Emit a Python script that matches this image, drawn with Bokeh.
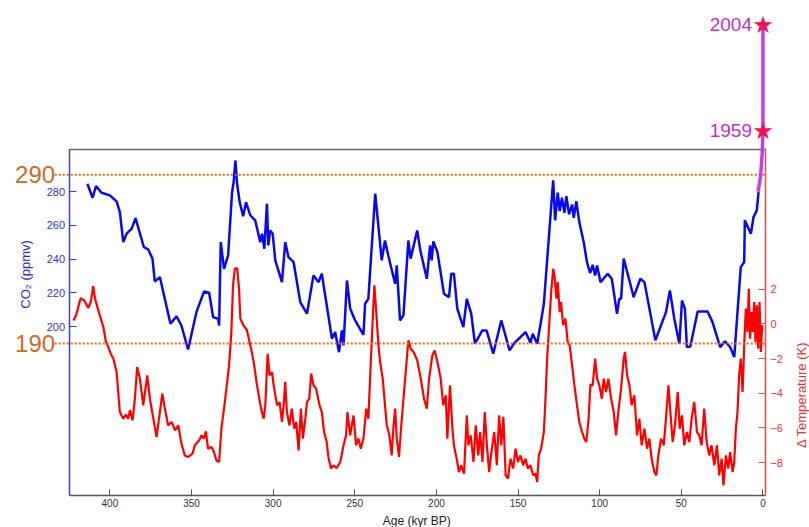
import math
from bokeh.plotting import figure
from bokeh.models import (Range1d, LinearAxis, FixedTicker, Label, LabelSet,
                          ColumnDataSource)
from bokeh.core.properties import value
from bokeh.embed import file_html
from bokeh.resources import INLINE

# ---------------- data ----------------
co2_age = [413.8, 410.6, 408.5, 405.1, 400.0, 395.9, 393.9, 391.8, 389.8, 386.7,
           384.3, 379.2, 376.5, 373.9, 372.5, 369.4, 362.9, 359.2, 356.2, 352.1,
           347.0, 342.3, 339.2, 336.8, 333.7, 333.1, 332.1, 330.1, 327.6, 325.2,
           324.2, 323.1, 322.1, 320.5, 318.4, 316.6, 314.0, 311.0, 307.9, 306.8,
           305.4, 303.8, 303.0, 301.8, 300.3, 298.7, 294.6, 292.6, 290.6, 287.5,
           283.4, 279.3, 275.3, 272.2, 270.2, 264.0, 262.0, 259.7, 257.9, 256.9,
           254.8, 252.8, 249.8, 244.7, 243.7, 241.7, 237.5, 233.5, 231.5, 229.5,
           225.3, 224.3, 222.3, 220.2, 217.2, 215.8, 211.8, 209.8, 205.9, 203.9,
           202.9, 201.9, 199.4, 195.4, 192.3, 190.9, 189.3, 187.2, 183.5, 181.4,
           178.7, 176.4, 171.9, 169.3, 165.2, 160.3, 155.2, 152.6, 145.4, 142.4,
           141.0, 138.3, 136.2, 134.2, 128.5, 127.3, 125.7, 124.5, 123.1, 121.6,
           120.4, 118.8, 116.9, 115.9, 114.3, 112.5, 109.8, 107.8, 105.9, 104.3,
           102.8, 101.6, 99.5, 95.1, 92.6, 89.4, 88.0, 86.9, 85.3, 81.8,
           79.2, 75.1, 72.6, 65.9, 59.4, 57.0, 54.3, 51.2, 49.6, 47.8,
           46.6, 44.5, 40.0, 33.9, 30.9, 26.2, 23.3, 20.1, 17.6, 13.6,
           11.5, 11.1, 7.4, 5.8, 3.8, 2.7]
co2_ppmv = [284.7, 276.4, 283.3, 279.4, 277.8, 274.2, 267.9, 250.1, 255.1, 258.0,
            264.3, 247.1, 245.8, 240.3, 226.8, 229.4, 201.7, 206.1, 200.7, 186.5,
            208.6, 220.9, 220.1, 205.7, 204.7, 200.7, 250.1, 234.3, 242.2, 279.4,
            285.7, 298.5, 284.7, 273.8, 265.5, 273.8, 265.9, 263.0, 250.1, 255.1,
            246.2, 272.9, 248.2, 257.0, 255.1, 239.3, 226.4, 250.1, 241.2, 238.3,
            214.6, 207.7, 230.4, 226.4, 231.4, 192.9, 196.8, 184.9, 197.8, 188.9,
            227.4, 210.6, 203.7, 195.2, 213.6, 216.5, 278.8, 239.3, 251.1, 242.2,
            225.4, 236.3, 203.7, 206.7, 251.1, 240.3, 257.0, 245.0, 228.4, 248.2,
            239.3, 250.5, 244.2, 219.5, 217.5, 231.4, 231.4, 210.6, 199.8, 216.5,
            207.7, 189.9, 197.8, 197.8, 184.0, 203.7, 186.0, 189.9, 196.8, 190.5,
            195.8, 189.9, 201.7, 213.6, 286.7, 263.0, 279.4, 268.5, 276.4, 267.5,
            277.4, 266.6, 272.4, 264.5, 274.3, 262.0, 250.1, 238.3, 231.8, 236.7,
            230.4, 236.3, 226.4, 231.4, 228.4, 207.7, 216.5, 216.5, 240.3, 227.4,
            217.5, 228.4, 226.4, 191.9, 208.6, 221.5, 204.7, 189.9, 215.5, 210.6,
            187.9, 188.3, 209.0, 209.0, 202.7, 187.9, 191.3, 187.9, 182.0, 235.3,
            238.3, 263.0, 255.1, 265.0, 268.9, 279.8]

temp_age = [422.4, 420.7, 417.9, 415.8, 413.2, 411.7, 410.2, 409.1, 406.5, 404.0,
            402.4, 401.0, 399.5, 397.9, 395.9, 394.9, 393.9, 391.8, 390.2, 388.8,
            387.7, 386.1, 384.7, 383.3, 381.6, 379.6, 377.1, 375.5, 373.0, 371.4,
            369.4, 367.9, 366.3, 364.3, 362.2, 360.1, 358.1, 356.2, 354.1, 352.1,
            349.4, 348.0, 345.3, 343.9, 342.5, 341.2, 339.9, 337.8, 336.4, 334.8,
            333.1, 331.7, 329.6, 327.0, 325.6, 324.6, 323.5, 322.1, 320.9, 320.1,
            318.3, 316.2, 314.0, 311.9, 309.9, 307.4, 305.8, 304.8, 303.4, 302.2,
            300.7, 299.7, 297.6, 296.1, 294.6, 293.6, 292.6, 291.6, 290.0, 288.6,
            287.1, 285.9, 284.4, 283.0, 281.8, 280.3, 279.3, 277.9, 276.7, 275.3,
            273.7, 271.6, 270.2, 268.8, 267.2, 266.2, 264.6, 263.1, 261.0, 258.9,
            256.9, 255.3, 254.5, 252.8, 250.8, 249.2, 247.8, 246.3, 244.7, 243.0,
            241.7, 240.2, 239.0, 238.0, 237.0, 235.5, 234.5, 232.9, 231.5, 230.4,
            228.8, 227.4, 226.4, 225.3, 224.3, 222.9, 221.7, 220.2, 218.8, 217.2,
            215.8, 214.0, 211.8, 209.8, 207.6, 205.9, 204.5, 202.5, 201.1, 199.4,
            197.4, 195.8, 194.3, 193.3, 191.7, 190.2, 189.3, 187.6, 186.2, 184.8,
            183.1, 181.4, 180.4, 179.0, 177.3, 175.9, 174.4, 173.2, 171.8, 170.4,
            169.1, 167.7, 166.3, 164.6, 163.0, 161.6, 160.3, 159.0, 157.6, 156.2,
            154.6, 153.0, 151.5, 150.1, 148.5, 146.9, 145.4, 144.0, 142.4, 140.8,
            139.3, 138.3, 137.3, 135.9, 134.2, 133.2, 132.2, 131.2, 129.7, 128.5,
            127.7, 126.5, 125.7, 124.5, 123.7, 122.4, 121.0, 119.6, 118.4, 116.9,
            115.5, 113.9, 112.5, 110.8, 109.4, 108.2, 106.8, 105.7, 104.3, 102.8,
            101.6, 100.2, 98.7, 97.5, 96.1, 94.7, 93.0, 91.4, 90.0, 88.6,
            86.9, 85.3, 84.5, 83.2, 81.8, 80.4, 78.8, 77.1, 75.7, 74.3,
            72.6, 71.0, 69.6, 68.2, 66.5, 65.3, 64.1, 62.4, 60.8, 59.4,
            57.9, 56.7, 55.3, 53.9, 52.2, 51.0, 49.6, 48.2, 46.6, 45.1,
            43.7, 42.1, 40.4, 39.0, 37.6, 36.0, 34.5, 32.9, 31.5, 29.8,
            28.2, 26.8, 25.3, 24.2, 22.7, 21.3, 20.1, 18.6, 17.6, 16.6,
            15.6, 14.6, 13.6, 12.5, 11.5, 10.5, 9.5, 8.7, 7.9, 7.0,
            6.2, 5.4, 4.6, 3.8, 2.9, 2.1, 1.3, 0.5]
temp_dk = [0.2, 0.49, 1.49, 1.36, 0.92, 1.26, 2.18, 1.45, 0.59, -0.18,
           -1.05, -1.34, -1.72, -2.0, -2.78, -3.93, -5.09, -5.47, -5.24, -5.47,
           -4.99, -5.57, -4.32, -2.49, -3.16, -4.7, -2.97, -4.32, -5.66, -6.53,
           -5.09, -4.03, -4.89, -5.86, -5.66, -6.14, -5.86, -6.91, -7.59, -7.68,
           -7.49, -7.01, -6.72, -6.43, -6.62, -6.2, -7.2, -7.1, -7.36, -7.87,
           -7.97, -6.05, -4.51, -2.39, -0.47, 2.22, 3.18, 3.22, 2.03, 0.3,
           -0.08, -0.33, -1.24, -2.2, -3.55, -4.89, -5.47, -4.7, -1.72, -2.97,
           -2.78, -3.55, -4.7, -4.51, -5.66, -4.7, -3.35, -5.09, -5.86, -4.89,
           -6.05, -5.66, -7.3, -4.89, -6.62, -5.47, -4.51, -4.32, -2.87, -3.55,
           -3.74, -4.7, -5.09, -6.24, -6.82, -7.68, -8.35, -8.16, -8.32, -7.97,
           -7.01, -6.43, -5.09, -6.43, -5.28, -7.01, -6.62, -7.2, -6.62, -4.89,
           -5.47, -2.2, 0.3, 2.22, 0.88, -1.24, -2.2, -3.16, -4.7, -5.86,
           -6.43, -7.59, -6.05, -4.89, -6.62, -7.68, -6.05, -4.32, -2.78, -0.95,
           -1.43, -1.62, -2.1, -3.06, -4.32, -4.89, -3.16, -1.82, -1.53, -2.2,
           -3.16, -4.7, -4.12, -6.62, -3.55, -6.05, -7.01, -7.78, -8.55, -8.16,
           -8.64, -5.28, -7.01, -6.43, -7.97, -5.86, -7.59, -6.24, -7.97, -5.09,
           -7.01, -8.55, -7.4, -6.24, -8.16, -5.28, -7.01, -5.37, -8.74, -8.93,
           -7.78, -8.35, -7.2, -7.97, -7.59, -8.16, -7.78, -8.35, -8.16, -8.74,
           -8.64, -9.12, -7.59, -7.2, -6.24, -4.32, -2.0, -0.47, 1.84, 3.18,
           2.8, 1.45, 2.41, 0.68, 1.26, -0.08, 0.3, -1.05, -1.24, -2.39,
           -3.55, -4.7, -5.66, -6.24, -6.62, -6.82, -5.47, -3.5, -3.55, -2.0,
           -3.16, -3.55, -4.32, -3.16, -3.93, -3.16, -4.32, -5.09, -6.43, -5.09,
           -3.74, -2.0, -1.62, -2.97, -3.55, -4.7, -4.12, -6.43, -5.47, -7.01,
           -6.05, -7.2, -6.62, -7.78, -8.55, -8.74, -7.59, -6.62, -7.01, -5.47,
           -3.55, -5.09, -6.82, -5.86, -3.93, -6.05, -5.28, -7.01, -6.24, -6.82,
           -5.47, -4.51, -6.24, -6.43, -7.01, -4.89, -6.82, -7.59, -7.01, -8.16,
           -7.01, -8.74, -7.78, -9.32, -7.59, -8.35, -7.4, -8.55, -7.97, -6.05,
           -5.09, -2.97, -2.0, -3.93, -1.24, 0.88, -0.47, 2.03, -0.85, 0.68,
           -0.47, 1.26, -1.05, 1.07, -1.43, 1.26, -1.62, -0.08]

recent_age = [3.0, 1.5, 0.5, 0.0, 0.0]
recent_co2 = [280, 289, 302, 316, 379]

marker_years = ["1959", "2004"]
marker_age = [0.0, 0.0]
marker_co2 = [316, 379]

ref_levels = [290, 190]
age_ticks = [400, 350, 300, 250, 200, 150, 100, 50, 0]
co2_ticks = [200, 220, 240, 260, 280]
temp_ticks = [2, 0, -2, -4, -6, -8]

# box of the original axes (data units)
AGE_OLD, AGE_YOUNG = 425.0, -1.5
CO2_LO, CO2_HI = 100.0, 305.0
T_LO, T_HI = -9.9, 10.1

# ---------------- figure ----------------
FONT = "Liberation Sans"
BLUE = "#0a0ae6"
RED = "#ff0000"
ORANGE = "#dd6a14"
MAGENTA = "#c83ce6"

# the plotting frame covers the whole canvas; axes are drawn at fixed locations
p = figure(width=809, height=527, output_backend="svg", toolbar_location=None,
           x_range=Range1d(467.0, -28.5), y_range=Range1d(81.0, 393.3),
           x_axis_location=None, y_axis_location=None,
           min_border_left=0, min_border_right=0, min_border_top=0,
           min_border_bottom=0)
p.extra_y_ranges = {"temp": Range1d(-11.75, 18.66)}
p.outline_line_color = None
p.grid.visible = False
p.background_fill_color = "white"

# bottom axis (age)
xa = LinearAxis(fixed_location=CO2_LO, bounds=(AGE_YOUNG, AGE_OLD),
                ticker=FixedTicker(ticks=age_ticks),
                major_tick_in=6, major_tick_out=0, minor_tick_line_color=None,
                axis_line_color="#555555", axis_line_width=1.5,
                major_tick_line_color="#555555",
                major_label_text_font=FONT, major_label_text_font_size="10px",
                major_label_text_color="#333333", major_label_standoff=4)
p.add_layout(xa, "below")

# left axis (CO2)
ya = LinearAxis(fixed_location=AGE_OLD, bounds=(CO2_LO, CO2_HI),
                ticker=FixedTicker(ticks=co2_ticks),
                major_tick_in=7, major_tick_out=0, minor_tick_line_color=None,
                axis_line_color="#3c3cf0", axis_line_width=1.5,
                major_tick_line_color="#3c3cf0",
                major_label_text_font=FONT, major_label_text_font_size="11px",
                major_label_text_color="#3030c8", major_label_standoff=4)
p.add_layout(ya, "left")

# right axis (temperature)
overrides = {t: ("\u2212%d" % -t if t < 0 else str(t)) for t in temp_ticks}
ra = LinearAxis(y_range_name="temp", fixed_location=AGE_YOUNG,
                bounds=(T_LO, T_HI),
                ticker=FixedTicker(ticks=temp_ticks),
                major_tick_in=7, major_tick_out=0,
                minor_tick_line_color=None,
                axis_line_color="#f04848", axis_line_width=1.5,
                major_tick_line_color="#f04848",
                major_label_text_font=FONT, major_label_text_font_size="11px",
                major_label_text_color="#e83030", major_label_standoff=5,
                major_label_overrides=overrides)
p.add_layout(ra, "right")

# top edge of the box
p.segment(x0=[AGE_OLD], y0=[CO2_HI], x1=[AGE_YOUNG], y1=[CO2_HI],
          line_color="#666666", line_width=1.5)

# curves
p.line(temp_age, temp_dk, y_range_name="temp", line_color=RED, line_width=2.2)
p.line(co2_age, co2_ppmv, line_color=BLUE, line_width=2.5)

# dotted reference levels with their labels
for lvl in ref_levels:
    p.line([AGE_OLD + 8.8, AGE_YOUNG - 0.7], [lvl, lvl], line_color=ORANGE,
           line_width=2, line_dash="2 2")
    p.add_layout(Label(x=AGE_OLD, y=lvl, x_offset=-14, text=str(lvl),
                       text_align="right", text_baseline="middle",
                       text_font=FONT, text_font_size="24px",
                       text_color="#cc6a2a"))

# modern CO2 rise and markers
p.line(recent_age, recent_co2, line_color=MAGENTA, line_width=3.5)
src = ColumnDataSource(dict(age=marker_age, co2=marker_co2, year=marker_years,
                            star=["\u2605"] * len(marker_years)))
p.add_layout(LabelSet(x="age", y="co2", text="star", source=src,
                      text_align="center", text_baseline="middle",
                      text_font=value("DejaVu Sans"), text_font_size="24px",
                      text_color="#f0105a"))
p.add_layout(LabelSet(x="age", y="co2", text="year", source=src, x_offset=-11,
                      text_align="right", text_baseline="middle",
                      text_font=value(FONT), text_font_size="19px",
                      text_color="#c030c8"))

# axis titles
p.add_layout(Label(x=AGE_OLD, y=231, x_offset=-44, text="CO\u2082 (ppmv)",
                   angle=math.pi / 2, text_align="center", text_baseline="middle",
                   text_font=FONT, text_font_size="13px", text_color="#2a2ad0"))
p.add_layout(Label(x=AGE_YOUNG, y=-4.1, y_range_name="temp", x_offset=36,
                   text="\u0394 Temperature (K)", angle=math.pi / 2,
                   text_align="center", text_baseline="middle",
                   text_font=FONT, text_font_size="13px", text_color="#e83030"))
p.add_layout(Label(x=212, y=85, text="Age (kyr BP)", text_align="center",
                   text_baseline="middle", text_font=FONT,
                   text_font_size="12px", text_color="#222222"))

open("out.html", "w").write(file_html(p, INLINE))
